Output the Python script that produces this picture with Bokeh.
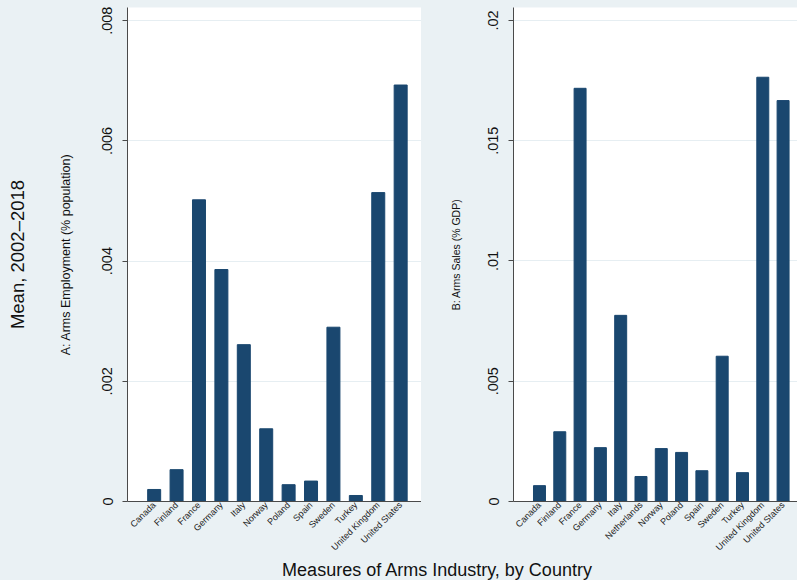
from math import pi
from bokeh.plotting import figure
from bokeh.models import (Range1d, FixedTicker, CustomJSTickFormatter, Label,
                          ColumnDataSource, LinearAxis)
from bokeh.layouts import column, row
from bokeh.embed import file_html
from bokeh.resources import INLINE

# ---- data ----
countries_a = ["Canada", "Finland", "France", "Germany", "Italy", "Norway", "Poland",
               "Spain", "Sweden", "Turkey", "United Kingdom", "United States"]
employment = [0.00020, 0.00053, 0.00502, 0.00386, 0.00261, 0.00121, 0.00028,
              0.00034, 0.00290, 0.00010, 0.00514, 0.00693]

countries_b = ["Canada", "Finland", "France", "Germany", "Italy", "Netherlands", "Norway",
               "Poland", "Spain", "Sweden", "Turkey", "United Kingdom", "United States"]
sales = [0.00066, 0.00290, 0.01718, 0.00224, 0.00774, 0.00104, 0.00220,
         0.00204, 0.00128, 0.00604, 0.00120, 0.01764, 0.01667]

ticks_a = [0, 0.002, 0.004, 0.006, 0.008]
ticks_b = [0, 0.005, 0.01, 0.015, 0.02]

title_a = "A: Arms Employment (% population)"
title_b = "B: Arms Sales (% GDP)"
side_title = "Mean, 2002\u20132018"
bottom_title = "Measures of Arms Industry, by Country"

# ---- style ----
BG = "#EAF1F4"
BAR = "#1A476F"
GRID = "#E6EEF2"
AXIS = "#4a4a4a"
FONT = "Liberation Sans"

fmt_code = """
const s = parseFloat(tick.toFixed(4)).toString();
return s.replace(/^0\\./, ".");
"""

ROW_H = 559


def make_panel(names, vals, yticks, ytop, xr, bar_w, width, border_left,
               ylabel, ylabel_size, ylabel_standoff, tick_standoff):
    src = ColumnDataSource(dict(x=list(range(len(names))), v=vals))
    p = figure(width=width, height=ROW_H, output_backend="svg", toolbar_location=None,
               x_range=Range1d(*xr), y_range=Range1d(0, ytop))
    p.min_border_left = border_left
    p.min_border_right = 0
    p.min_border_top = 7
    p.min_border_bottom = ROW_H - 501
    p.background_fill_color = "white"
    p.border_fill_color = BG
    p.outline_line_color = None
    p.vbar(x="x", top="v", width=bar_w, source=src, fill_color=BAR, line_color=BAR)

    # x axis
    xa = p.xaxis[0]
    xa.ticker = FixedTicker(ticks=list(range(len(names))))
    xa.major_label_overrides = {i: n for i, n in enumerate(names)}
    xa.major_label_orientation = pi / 4
    xa.major_label_text_font = FONT
    xa.major_label_text_font_size = "9px"
    xa.major_label_text_color = "#222222"
    xa.major_tick_out = 0
    xa.major_tick_in = 0
    xa.minor_tick_out = 0
    xa.minor_tick_in = 0
    xa.major_label_standoff = 2
    xa.axis_line_color = AXIS

    # y axis
    ya = p.yaxis[0]
    ya.ticker = FixedTicker(ticks=yticks)
    ya.formatter = CustomJSTickFormatter(code=fmt_code)
    ya.major_label_orientation = "vertical"
    ya.major_label_text_font = FONT
    ya.major_label_text_font_size = "14.5px"
    ya.major_label_text_color = "#111111"
    ya.major_tick_out = 5
    ya.major_tick_in = 0
    ya.minor_tick_out = 0
    ya.minor_tick_in = 0
    ya.major_label_standoff = tick_standoff
    ya.axis_line_color = AXIS
    ya.major_tick_line_color = AXIS
    ya.axis_label = ylabel
    ya.axis_label_text_font = FONT
    ya.axis_label_text_font_style = "normal"
    ya.axis_label_text_font_size = ylabel_size
    ya.axis_label_text_color = "#111111"
    ya.axis_label_standoff = ylabel_standoff

    p.xgrid.grid_line_color = None
    p.ygrid.ticker = FixedTicker(ticks=yticks)
    p.ygrid.grid_line_color = GRID
    p.ygrid.grid_line_width = 1
    return p


pA = make_panel(countries_a, employment, ticks_a, 0.00822, (-1.19, 11.93), 0.58,
                421, 127, title_a, "12.5px", 27, 10)

# outer title of the combined graph, drawn as the label of a bare extra axis
side_axis = LinearAxis(ticker=FixedTicker(ticks=[]), axis_line_color=None,
                       major_tick_out=0, major_tick_in=0, minor_tick_out=0,
                       minor_tick_in=0, major_label_text_font_size="0px",
                       axis_label=side_title, axis_label_text_font=FONT,
                       axis_label_text_font_style="normal",
                       axis_label_text_font_size="18.5px",
                       axis_label_text_color="#111111", axis_label_standoff=28)
pA.add_layout(side_axis, "left")

pB = make_panel(countries_b, sales, ticks_b, 0.02054, (-1.28, 12.71), 0.59,
                376, 92, title_b, "10.5px", 24, 10)

footer = figure(width=797, height=580 - ROW_H, output_backend="svg",
                toolbar_location=None,
                x_range=Range1d(0, 797), y_range=Range1d(0, 580 - ROW_H),
                x_axis_location=None, y_axis_location=None)
footer.min_border = 0
footer.grid.visible = False
footer.outline_line_color = None
footer.background_fill_color = BG
footer.border_fill_color = BG
footer.add_layout(Label(x=437, y=11, text=bottom_title, text_align="center",
                        text_baseline="middle", text_font=FONT,
                        text_font_size="18px", text_color="#111111"))

layout = column(row(pA, pB, styles={"background-color": BG}), footer,
                styles={"background-color": BG})

open("out.html", "w").write(file_html(layout, INLINE))
